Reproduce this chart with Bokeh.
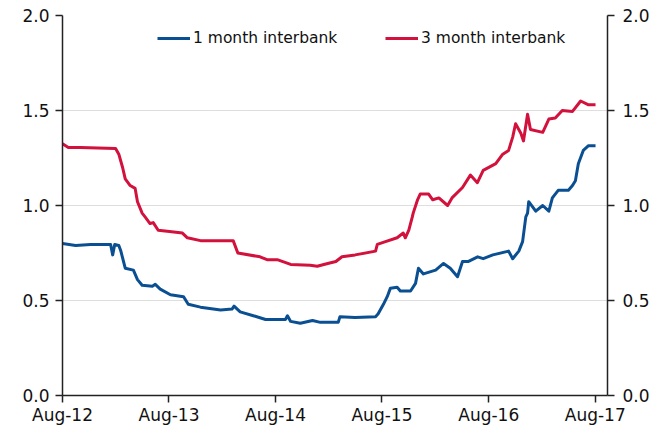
import pandas as pd
from bokeh.plotting import figure
from bokeh.models import (Range1d, LinearAxis, FixedTicker, DatetimeTickFormatter,
                          NumeralTickFormatter, Legend, LegendItem, ColumnDataSource)
from bokeh.embed import file_html
from bokeh.resources import INLINE

# ---- data ----
m1_dates = ["2012-08-01", "2012-09-15", "2012-11-05", "2013-01-13", "2013-01-20", "2013-01-27",
            "2013-02-10", "2013-02-17", "2013-03-04", "2013-04-01", "2013-04-15", "2013-05-01",
            "2013-06-05", "2013-06-15", "2013-07-02", "2013-08-06", "2013-09-20", "2013-10-06",
            "2013-11-17", "2014-01-25", "2014-03-05", "2014-03-12", "2014-04-02", "2014-05-17",
            "2014-06-28", "2014-09-04", "2014-09-11", "2014-09-22", "2014-10-25", "2014-12-06",
            "2015-01-02", "2015-03-04", "2015-03-10", "2015-05-01", "2015-07-10", "2015-07-19",
            "2015-08-06", "2015-08-19", "2015-08-30", "2015-09-22", "2015-10-03", "2015-11-07",
            "2015-11-24", "2015-12-04", "2015-12-21", "2016-02-01", "2016-02-28", "2016-03-22",
            "2016-04-16", "2016-05-03", "2016-05-22", "2016-06-24", "2016-07-13", "2016-08-15",
            "2016-10-08", "2016-10-22", "2016-11-12", "2016-11-25", "2016-12-06", "2016-12-12",
            "2016-12-16", "2017-01-09", "2017-02-02", "2017-02-23", "2017-03-07", "2017-03-27",
            "2017-05-01", "2017-05-15", "2017-05-25", "2017-06-04", "2017-06-21", "2017-07-09",
            "2017-08-02"]
m1_values = [0.80, 0.79, 0.795, 0.795, 0.74, 0.795,
             0.79, 0.76, 0.67, 0.66, 0.61, 0.58,
             0.575, 0.585, 0.56, 0.53, 0.52, 0.48,
             0.465, 0.45, 0.455, 0.47, 0.44, 0.42,
             0.40, 0.40, 0.42, 0.39, 0.38, 0.395,
             0.385, 0.385, 0.415, 0.41, 0.415, 0.43,
             0.48, 0.52, 0.565, 0.57, 0.55, 0.55,
             0.59, 0.67, 0.64, 0.66, 0.695, 0.67,
             0.625, 0.705, 0.705, 0.73, 0.72, 0.74,
             0.76, 0.72, 0.76, 0.81, 0.94, 0.96,
             1.02, 0.97, 1.00, 0.97, 1.04, 1.08,
             1.08, 1.105, 1.13, 1.22, 1.29, 1.315,
             1.315]

m3_dates = ["2012-08-01", "2012-08-21", "2012-10-01", "2013-01-30", "2013-02-10", "2013-02-23",
            "2013-03-04", "2013-03-21", "2013-04-07", "2013-04-15", "2013-05-01", "2013-05-11",
            "2013-05-28", "2013-06-08", "2013-06-25", "2013-07-26", "2013-09-16", "2013-10-03",
            "2013-11-17", "2014-03-09", "2014-03-25", "2014-06-09", "2014-07-03", "2014-08-07",
            "2014-09-22", "2014-11-28", "2014-12-22", "2015-01-27", "2015-02-24", "2015-03-17",
            "2015-05-01", "2015-07-10", "2015-07-16", "2015-08-13", "2015-09-22", "2015-10-13",
            "2015-10-20", "2015-11-01", "2015-11-13", "2015-11-16", "2015-12-01", "2015-12-10",
            "2016-01-08", "2016-01-22", "2016-02-12", "2016-03-13", "2016-03-28", "2016-05-03",
            "2016-05-30", "2016-06-23", "2016-07-13", "2016-08-25", "2016-09-18", "2016-10-08",
            "2016-10-22", "2016-11-01", "2016-11-19", "2016-11-28", "2016-12-12", "2016-12-22",
            "2017-02-02", "2017-02-23", "2017-03-17", "2017-04-10", "2017-05-15", "2017-06-12",
            "2017-07-09", "2017-08-02"]
m3_values = [1.325, 1.305, 1.305, 1.30, 1.27, 1.20,
             1.14, 1.105, 1.09, 1.02, 0.96, 0.94,
             0.905, 0.91, 0.87, 0.865, 0.855, 0.83,
             0.815, 0.815, 0.75, 0.73, 0.715, 0.715,
             0.69, 0.685, 0.68, 0.695, 0.705, 0.73,
             0.74, 0.76, 0.795, 0.81, 0.83, 0.855,
             0.83, 0.87, 0.94, 0.96, 1.03, 1.06,
             1.06, 1.03, 1.04, 1.00, 1.04, 1.095,
             1.16, 1.12, 1.185, 1.22, 1.27, 1.29,
             1.36, 1.43, 1.38, 1.34, 1.48, 1.40,
             1.385, 1.455, 1.46, 1.50, 1.495, 1.55,
             1.53, 1.53]

x_tick_dates = ["2012-08-01", "2013-08-01", "2014-08-01", "2015-08-01", "2016-08-01", "2017-08-01"]
y_ticks = [0.0, 0.5, 1.0, 1.5, 2.0]
series_names = ["1 month interbank", "3 month interbank"]
x_start, x_end = "2012-08-01", "2017-09-12"

BLUE = "#0b4f93"
RED = "#d2113c"
FONT = "DejaVu Sans"
FS_TICK = "17px"
FS_LEG = "15.5px"

src1 = ColumnDataSource(dict(x=pd.to_datetime(m1_dates), y=m1_values))
src3 = ColumnDataSource(dict(x=pd.to_datetime(m3_dates), y=m3_values))

p = figure(width=670, height=432, x_axis_type="datetime", output_backend="svg",
           toolbar_location=None,
           x_range=Range1d(pd.Timestamp(x_start), pd.Timestamp(x_end)),
           y_range=Range1d(0, 2),
           min_border_left=62, min_border_right=63, min_border_top=15, min_border_bottom=37)
p.outline_line_color = None
p.background_fill_color = "white"
p.border_fill_color = "white"

r1 = p.line("x", "y", source=src1, line_color=BLUE, line_width=3, line_join="round")
r3 = p.line("x", "y", source=src3, line_color=RED, line_width=3, line_join="round")

tick_ms = [pd.Timestamp(d).value / 1e6 for d in x_tick_dates]
xa = p.xaxis[0]
xa.ticker = FixedTicker(ticks=tick_ms)
xa.formatter = DatetimeTickFormatter(days="%b-%y", months="%b-%y", years="%b-%y")

ya = p.yaxis[0]
ya.ticker = FixedTicker(ticks=y_ticks)
ya.formatter = NumeralTickFormatter(format="0.0")
ra = LinearAxis(ticker=FixedTicker(ticks=y_ticks), formatter=NumeralTickFormatter(format="0.0"))
p.add_layout(ra, "right")

for ax in [xa, ya, ra]:
    ax.axis_line_color = "#222222"
    ax.axis_line_width = 1.5
    ax.major_tick_line_color = "#222222"
    ax.major_tick_line_width = 1.5
    ax.major_tick_out = 7
    ax.major_tick_in = 0
    ax.minor_tick_line_color = None
    ax.major_label_text_font = FONT
    ax.major_label_text_font_size = FS_TICK
    ax.major_label_text_color = "#111111"
ya.major_label_standoff = 6
ra.major_label_standoff = 8
xa.major_label_standoff = 2

p.xgrid.grid_line_color = None
p.ygrid.ticker = FixedTicker(ticks=[0.5, 1.0, 1.5, 2.0])
p.ygrid.grid_line_color = "#bdbdbd"
p.ygrid.grid_line_dash = "1 1"
p.ygrid.grid_line_width = 1

for name, rend, loc in [(series_names[0], r1, (95, 347)), (series_names[1], r3, (323, 347))]:
    lg = Legend(items=[LegendItem(label=name, renderers=[rend])], location=loc,
                orientation="horizontal", padding=0, margin=0, spacing=0,
                border_line_color=None, background_fill_alpha=0,
                glyph_width=33, glyph_height=20, label_standoff=3, label_height=20,
                label_text_font=FONT, label_text_font_size=FS_LEG, label_text_color="#111111")
    p.add_layout(lg, "center")

open("out.html", "w").write(file_html(p, INLINE))
